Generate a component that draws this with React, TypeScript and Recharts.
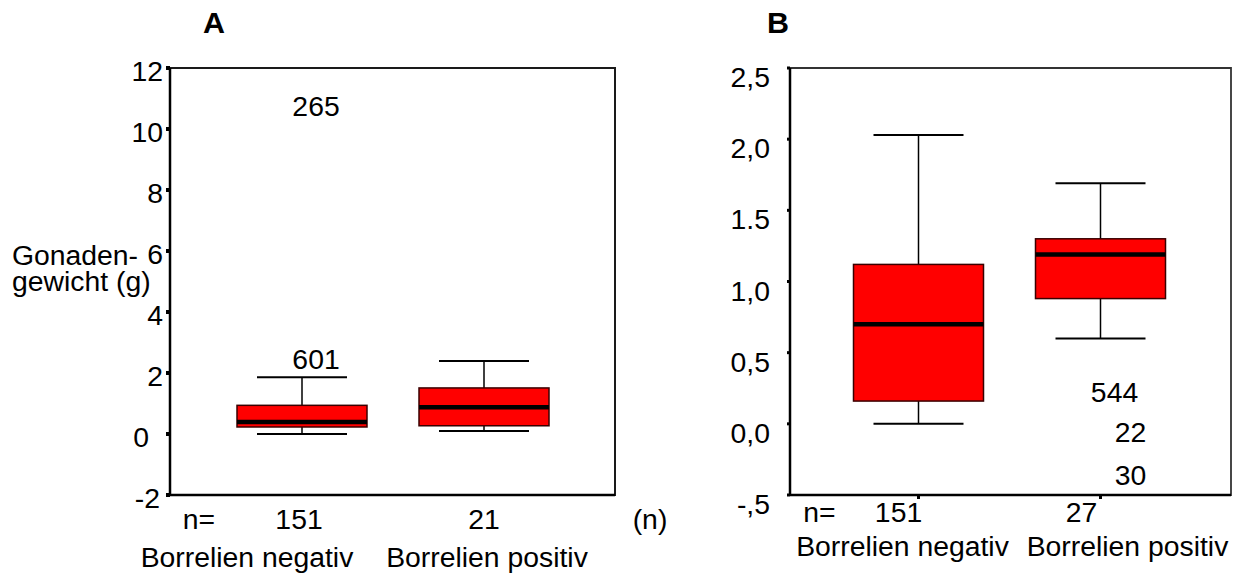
import React from "react";
import { ComposedChart, Bar, Line, XAxis, YAxis, ReferenceArea } from "recharts";

// ---------- data ----------
const catsA = ["Borrelien negativ", "Borrelien positiv"];
const nA = [151, 21];
const minA = [0.0, 0.1];
const q1A = [0.23, 0.27];
const medA = [0.39, 0.88];
const q3A = [0.94, 1.51];
const maxA = [1.86, 2.39];
const yTicksA = [-2, 0, 2, 4, 6, 8, 10, 12];
const yTickLabelsA = ["-2", "0", "2", "4", "6", "8", "10", "12"];
const outliersA = [
  { cat: 0, value: 10.73, label: "265" },
  { cat: 0, value: 2.44, label: "601" },
];

const catsB = ["Borrelien negativ", "Borrelien positiv"];
const nB = [151, 27];
const minB = [0.0, 0.6];
const q1B = [0.16, 0.88];
const medB = [0.7, 1.19];
const q3B = [1.12, 1.3];
const maxB = [2.03, 1.69];
const yTicksB = [-0.5, 0, 0.5, 1, 1.5, 2, 2.5];
const yTickLabelsB = ["-,5", "0,0", "0,5", "1,0", "1.5", "2,0", "2,5"];
const outliersB = [
  { cat: 1, value: 0.22, label: "544" },
  { cat: 1, value: -0.065, label: "22" },
  { cat: 1, value: -0.365, label: "30" },
];

// ---------- layout constants ----------
const FONT = "'Liberation Sans', Arial, Helvetica, sans-serif";
const FS = 27;
const SX = 1.05;
const outlierDxA = [14, 14];
const outlierDxB = [14, 30, 30];
const yTickDxA = [-3, -14, 0, 0, 0, 0, 0, 0];
const yTickDxB = [0, 0, 0, 0, 0, 0, 0];

function buildRows(cats: string[], n: number[], mn: number[], q1: number[], med: number[], q3: number[], mx: number[], outs: any[]) {
  return cats.map((c, i) => {
    const row: any = { cat: c, n: n[i], min: mn[i], q1: q1[i], median: med[i], q3: q3[i], max: mx[i] };
    outs.forEach((o, j) => {
      row["o" + j] = o.cat === i ? o.value : null;
    });
    return row;
  });
}

const rowsA = buildRows(catsA, nA, minA, q1A, medA, q3A, maxA, outliersA);
const rowsB = buildRows(catsB, nB, minB, q1B, medB, q3B, maxB, outliersB);

function T({ x, y, children, anchor = "middle", size = FS, weight = "normal" }: any) {
  return (
    <text
      transform={`translate(${x},${y}) scale(${SX},1)`}
      textAnchor={anchor}
      fontSize={size}
      fontFamily={FONT}
      fontWeight={weight}
      fill="#000"
    >
      {children}
    </text>
  );
}

const BoxShape = (props: any) => {
  const { x, y, width, height, payload } = props;
  if (x == null || y == null || !payload) return <g />;
  const top = Math.min(y, y + height);
  const h = Math.abs(height);
  const span = payload.max - payload.min;
  const py = (v: number) => top + (h * (payload.max - v)) / span;
  const cx = x + width / 2;
  const cap = 45;
  return (
    <g>
      <line x1={cx} x2={cx} y1={py(payload.max)} y2={py(payload.q3)} stroke="#000" strokeWidth={1.5} />
      <line x1={cx} x2={cx} y1={py(payload.q1)} y2={py(payload.min)} stroke="#000" strokeWidth={1.5} />
      <line x1={cx - cap} x2={cx + cap} y1={py(payload.max)} y2={py(payload.max)} stroke="#000" strokeWidth={2} />
      <line x1={cx - cap} x2={cx + cap} y1={py(payload.min)} y2={py(payload.min)} stroke="#000" strokeWidth={2} />
      <rect x={x} y={py(payload.q3)} width={width} height={py(payload.q1) - py(payload.q3)} fill="#ff0000" stroke="#3a0000" strokeWidth={1.5} />
      <line x1={x} x2={x + width} y1={py(payload.median)} y2={py(payload.median)} stroke="#000" strokeWidth={4.5} />
    </g>
  );
};

function makeOutlierDot(key: string, label: string, dx: number) {
  return (p: any) => {
    const k = `${key}-${p.index}`;
    if (!p.payload || p.payload[key] == null || p.cy == null || isNaN(p.cy)) return <g key={k} />;
    return (
      <g key={k}>
        <T x={p.cx + dx} y={p.cy + 9}>{label}</T>
      </g>
    );
  };
}

function makeYTick(ticks: number[], labels: string[], dxs: number[], dy: number) {
  return (p: any) => {
    const v = p.payload.value;
    const idx = ticks.indexOf(v);
    return (
      <T x={p.x + (idx >= 0 ? dxs[idx] : 0)} y={p.y + dy} anchor="end">
        {idx >= 0 ? labels[idx] : String(v)}
      </T>
    );
  };
}

const XTickA = (p: any) => {
  const i = p.index ?? p.payload.index;
  const x = p.x;
  const y = p.y;
  const nDx = [-3, 0];
  const lDx = [-55, 3];
  return (
    <g>
      {i === 0 && <T x={x - 103} y={y + 28}>n=</T>}
      <T x={x + nDx[i]} y={y + 28}>{rowsA[i].n}</T>
      <T x={x + lDx[i]} y={y + 66}>{rowsA[i].cat}</T>
    </g>
  );
};

const XTickB = (p: any) => {
  const i = p.index ?? p.payload.index;
  const x = p.x;
  const y = p.y;
  const nDx = [-20, -19];
  const lDx = [-16, 27];
  return (
    <g>
      {i === 0 && <T x={x - 99} y={y + 21}>n=</T>}
      <T x={x + nDx[i]} y={y + 21}>{rowsB[i].n}</T>
      <T x={x + lDx[i]} y={y + 55}>{rowsB[i].cat}</T>
    </g>
  );
};

export default function App() {
  return (
    <div style={{ position: "absolute", left: 0, top: 0, width: 1244, height: 575, background: "#fff" }}>
      <div style={{ position: "absolute", left: 0, top: 0 }}>
        <ComposedChart width={640} height={575} data={rowsA} margin={{ top: 68, right: 25, bottom: 0, left: 110 }}>
          <XAxis xAxisId="f" type="number" domain={[0, 1]} hide />
          <ReferenceArea xAxisId="f" yAxisId="l" x1={0} x2={1} y1={-2} y2={12} fill="none" stroke="#1a1a1a" strokeWidth={2} />
          <XAxis
            xAxisId="b"
            dataKey="cat"
            height={80}
            padding={{ left: 41, right: 40 }}
            axisLine={{ stroke: "#000", strokeWidth: 2.5 }}
            tickLine={false}
            tickSize={4}
            tickMargin={2}
            tick={XTickA}
            interval={0}
          />
          <YAxis
            yAxisId="l"
            type="number"
            domain={[-2, 12]}
            ticks={yTicksA}
            width={60}
            axisLine={{ stroke: "#000", strokeWidth: 2.5 }}
            tickLine={{ stroke: "#000", strokeWidth: 4 }}
            tickSize={4}
            tickMargin={3}
            tick={makeYTick(yTicksA, yTickLabelsA, yTickDxA, 13)}
            interval={0}
          />
          <Bar xAxisId="b" yAxisId="l" dataKey={(d: any) => [d.min, d.max]} barSize={130} shape={BoxShape} isAnimationActive={false} />
          {outliersA.map((o, j) => (
            <Line
              key={"oa" + j}
              xAxisId="b"
              yAxisId="l"
              dataKey={"o" + j}
              stroke="none"
              isAnimationActive={false}
              activeDot={false}
              dot={makeOutlierDot("o" + j, o.label, outlierDxA[j])}
            />
          ))}
        </ComposedChart>
      </div>
      <div style={{ position: "absolute", left: 640, top: 0 }}>
        <ComposedChart width={604} height={575} data={rowsB} margin={{ top: 68, right: 13, bottom: 0, left: 90 }}>
          <XAxis xAxisId="f" type="number" domain={[0, 1]} hide />
          <ReferenceArea xAxisId="f" yAxisId="l" x1={0} x2={1} y1={-0.5} y2={2.5} fill="none" stroke="#333" strokeWidth={1.8} />
          <XAxis
            xAxisId="b"
            dataKey="cat"
            height={80}
            padding={{ left: 37.5, right: 39.5 }}
            axisLine={{ stroke: "#000", strokeWidth: 2.5 }}
            tickLine={{ stroke: "#000", strokeWidth: 3 }}
            tickSize={4}
            tickMargin={2}
            tick={XTickB}
            interval={0}
          />
          <YAxis
            yAxisId="l"
            type="number"
            domain={[-0.5, 2.5]}
            ticks={yTicksB}
            width={60}
            axisLine={{ stroke: "#000", strokeWidth: 2.5 }}
            tickLine={{ stroke: "#000", strokeWidth: 3 }}
            tickSize={3}
            tickMargin={17}
            tick={makeYTick(yTicksB, yTickLabelsB, yTickDxB, 19)}
            interval={0}
          />
          <Bar xAxisId="b" yAxisId="l" dataKey={(d: any) => [d.min, d.max]} barSize={130} shape={BoxShape} isAnimationActive={false} />
          {outliersB.map((o, j) => (
            <Line
              key={"ob" + j}
              xAxisId="b"
              yAxisId="l"
              dataKey={"o" + j}
              stroke="none"
              isAnimationActive={false}
              activeDot={false}
              dot={makeOutlierDot("o" + j, o.label, outlierDxB[j])}
            />
          ))}
        </ComposedChart>
      </div>
      <svg width={1244} height={575} style={{ position: "absolute", left: 0, top: 0, pointerEvents: "none" }}>
        <T x={214} y={33} size={29} weight="bold">A</T>
        <T x={778} y={33} size={29} weight="bold">B</T>
        <T x={12} y={265} anchor="start">Gonaden-</T>
        <T x={12} y={291} anchor="start">gewicht (g)</T>
        <T x={650} y={529}>(n)</T>
      </svg>
    </div>
  );
}
